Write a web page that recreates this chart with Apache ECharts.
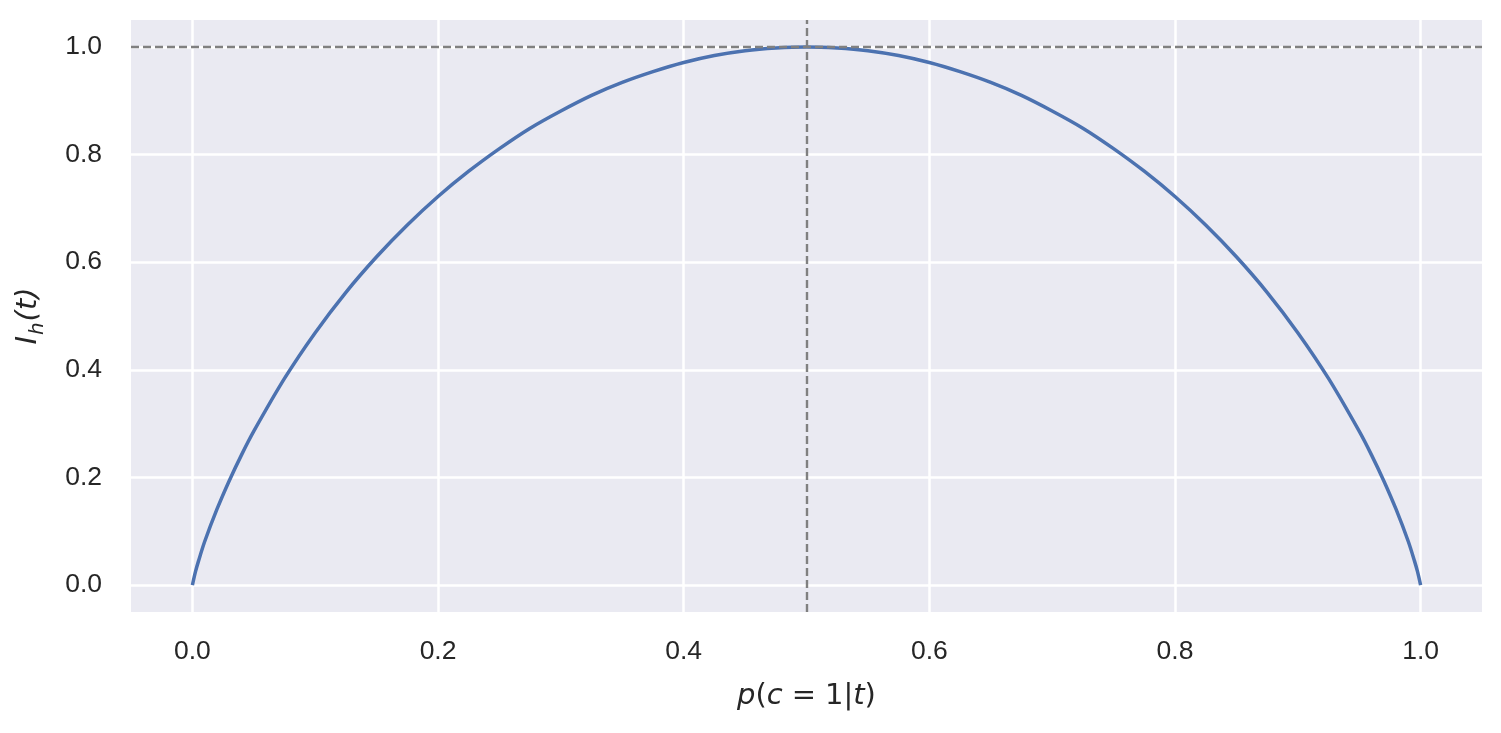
<!DOCTYPE html>
<html>
<head>
<meta charset="utf-8">
<script src="https://cdn.jsdelivr.net/npm/echarts@6/dist/echarts.min.js"></script>
<style>
html,body{margin:0;padding:0;background:#fff;}
#chart{width:1501px;height:733px;}
</style>
</head>
<body>
<div id="chart"></div>
<script>
const pValues = [0, 0.0025, 0.005, 0.01, 0.02, 0.03, 0.04, 0.05, 0.075, 0.1, 0.125, 0.15, 0.175, 0.2, 0.225, 0.25, 0.275, 0.3, 0.325, 0.35, 0.375, 0.4, 0.425, 0.45, 0.475, 0.5,
  0.525, 0.55, 0.575, 0.6, 0.625, 0.65, 0.675, 0.7, 0.725, 0.75, 0.775, 0.8, 0.825, 0.85, 0.875, 0.9, 0.925, 0.95, 0.96, 0.97, 0.98, 0.99, 0.995, 0.9975, 1];
const impurity = [0, 0.025, 0.045, 0.081, 0.141, 0.194, 0.242, 0.286, 0.384, 0.469, 0.544, 0.610, 0.669, 0.722, 0.769, 0.811, 0.849, 0.881, 0.910, 0.934, 0.954, 0.971, 0.984, 0.993, 0.998, 1.0,
  0.998, 0.993, 0.984, 0.971, 0.954, 0.934, 0.910, 0.881, 0.849, 0.811, 0.769, 0.722, 0.669, 0.610, 0.544, 0.469, 0.384, 0.286, 0.242, 0.194, 0.141, 0.081, 0.045, 0.025, 0];
const xTicks = [0, 0.2, 0.4, 0.6, 0.8, 1.0];
const yTicks = [0, 0.2, 0.4, 0.6, 0.8, 1.0];
const refX = 0.5;
const refY = 1.0;

const chart = echarts.init(document.getElementById('chart'));
const tickFont = { fontFamily: 'Liberation Sans', fontSize: 26.5, color: '#262626' };
const gridLine = { show: true, lineStyle: { color: '#ffffff', width: 2.5 } };
const ital = { fontFamily: 'DejaVu Sans', fontStyle: 'italic', fontSize: 29, color: '#262626' };

chart.setOption({
  animation: false,
  backgroundColor: '#ffffff',
  grid: { left: 131, right: 19, top: 20, bottom: 121, show: true, backgroundColor: '#EAEAF2', borderWidth: 0 },
  xAxis: {
    type: 'value', min: -0.05, max: 1.05,
    axisLine: { show: false }, axisTick: { show: false, customValues: xTicks },
    splitLine: gridLine,
    axisLabel: Object.assign({ customValues: xTicks, margin: 26, formatter: v => v.toFixed(1) }, tickFont),
    name: '{i|p}({i|c}{e|=}1|{i|t})',
    nameLocation: 'middle', nameGap: 70,
    nameTextStyle: { fontFamily: 'DejaVu Sans', fontSize: 29, color: '#262626',
      rich: { i: ital, e: { fontFamily: 'DejaVu Sans', fontSize: 29, color: '#262626', padding: [0, 9, 0, 9] } } }
  },
  yAxis: {
    type: 'value', min: -0.05, max: 1.05,
    axisLine: { show: false }, axisTick: { show: false, customValues: yTicks },
    splitLine: gridLine,
    axisLabel: Object.assign({ customValues: yTicks, margin: 29, formatter: v => v.toFixed(1) }, tickFont),
    name: '{i|I}{s|h}{i|(t)}',
    nameLocation: 'middle', nameGap: 83, nameRotate: 90,
    nameTextStyle: { fontFamily: 'DejaVu Sans', fontSize: 29, color: '#262626',
      rich: {
        i: Object.assign({ lineHeight: 34, verticalAlign: 'top' }, ital),
        s: { fontFamily: 'DejaVu Sans', fontStyle: 'italic', fontSize: 20, color: '#262626', lineHeight: 34, verticalAlign: 'top', padding: [14, 1, 0, 1] }
      } }
  },
  series: [{
    type: 'line',
    data: pValues.map((p, i) => [p, impurity[i]]),
    smooth: 0.3,
    showSymbol: false,
    lineStyle: { color: '#4C72B0', width: 3.5 },
    z: 3,
    markLine: {
      silent: true, symbol: 'none', animation: false,
      label: { show: false },
      lineStyle: { color: '#808080', type: [8, 4], width: 2.4 },
      data: [{ xAxis: refX }, { yAxis: refY }],
      z: 5
    }
  }]
});
</script>
</body>
</html>
